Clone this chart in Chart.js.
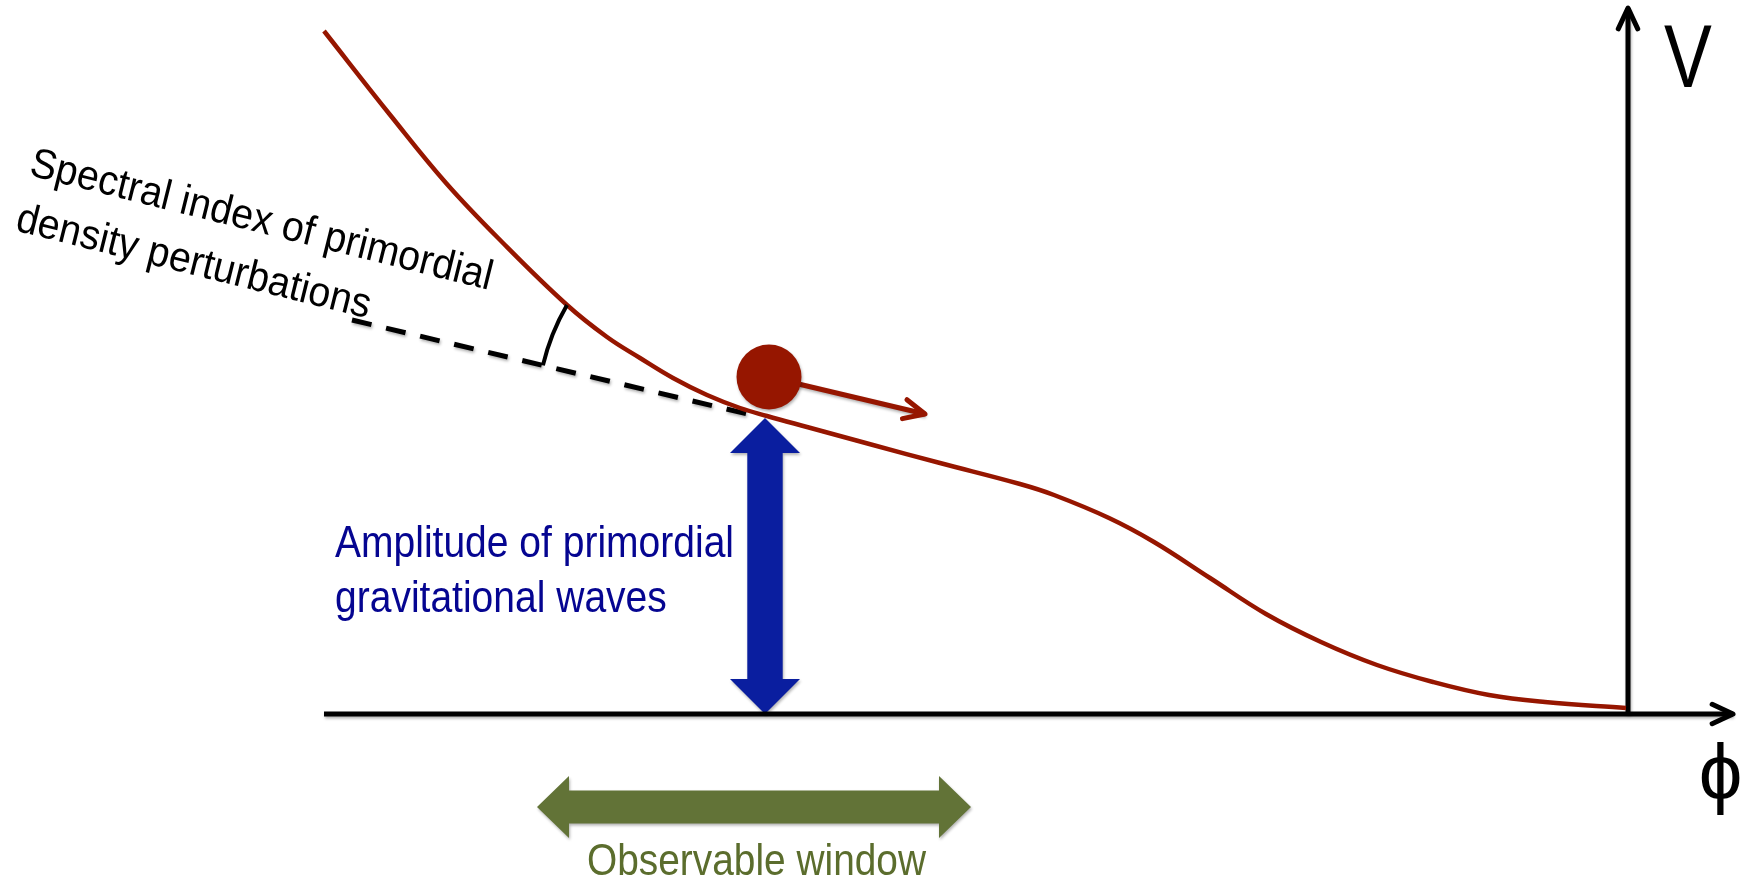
<!DOCTYPE html>
<html>
<head>
<meta charset="utf-8">
<script src="https://cdn.jsdelivr.net/npm/chart.js@4.4.0/dist/chart.umd.min.js"></script>
<style>
  html, body { margin: 0; padding: 0; background: #fff; overflow: hidden; }
</style>
</head>
<body>
<canvas id="c" width="1750" height="881"></canvas>
<script>
// potential V(phi) (arbitrary units, V = 0 on the phi axis)
const phi = [32.4, 39.1, 44.6, 50.2, 56.7, 60.7, 64.0, 67.3, 70.7, 74.0, 76.7, 80.7, 87.3, 94.0, 102.0,
  105.4, 110.9, 115.4, 121.0, 126.6, 132.1, 137.7, 143.3, 148.9, 154.5, 162.6];
const V = [68.3, 59.8, 53.1, 47.2, 40.9, 37.7, 35.6, 33.6, 31.9, 30.6, 29.8, 28.7, 26.9, 25.1, 23.0,
  21.9, 19.6, 17.2, 13.6, 10.0, 7.2, 4.9, 3.2, 1.9, 1.2, 0.6];

// tangent to the curve at the ball (dashed)
const tangentPhi = [35.2, 76.0];
const tangentV = [39.4, 29.7];
// point on the curve where the angle arc ends
const arcPhi = [56.7];
const arcV = [40.9];

// the rolling ball and its velocity arrow
const ballPhi = [76.9];
const ballV = [33.7];
const kickPhi = [76.9, 92.5];
const kickV = [33.7, 30.0];

// axes
const phiAxisPhi = [32.4, 173.3];
const phiAxisV = [0, 0];
const vAxisPhi = [162.8, 162.8];
const vAxisV = [0, 70.6];

// amplitude arrow (vertical) and observable window (horizontal)
const ampPhi = [76.5, 76.5];
const ampV = [29.6, 0];
const windowPhi = [53.7, 97.1];
const windowV = [-9.3, -9.3];

const RED = "#961600";
const BLUE = "#0a1e9f";
const GREEN = "#627337";
const FONT = "'Liberation Sans', Arial, sans-serif";

function pts(xs, ys) {
  return xs.map((x, i) => ({ x: x, y: ys[i] }));
}

// text blocks: anchor = left end of first baseline (data units)
const textBlocks = [
  { lines: ["Spectral index of primordial", "density perturbations"], at: [2.8, 53.9], rot: 14,
    size: 42, lh: 57, width: 475, color: "#000" },
  { lines: ["Amplitude of primordial", "gravitational waves"], at: [33.5, 15.7], rot: 0,
    size: 44, lh: 55, width: 399, color: "#050591" },
  { lines: ["Observable window"], at: [58.7, -16.1], rot: 0,
    size: 44, lh: 0, width: 339, color: "#5b6d2d" },
];
// axis symbols fitted into a box [phiLeft, Vtop, phiRight, Vbottom]
const symbols = [
  { text: "V", box: [166.4, 68.9, 171.2, 62.7] },
  { text: "\u03d5", box: [170.1, -2.8, 174.0, -10.1] },
];

function shadowOn(ctx) {
  ctx.shadowColor = "rgba(0,0,0,0.3)";
  ctx.shadowBlur = 3;
  ctx.shadowOffsetX = 1;
  ctx.shadowOffsetY = 2;
}

function chevron(ctx, tx, ty, fx, fy, color) {
  const a = Math.atan2(ty - fy, tx - fx);
  const len = 23, spread = 25 * Math.PI / 180;
  ctx.save();
  ctx.strokeStyle = color;
  ctx.lineWidth = 5;
  ctx.lineCap = "round";
  ctx.lineJoin = "round";
  ctx.beginPath();
  ctx.moveTo(tx - len * Math.cos(a - spread), ty - len * Math.sin(a - spread));
  ctx.lineTo(tx, ty);
  ctx.lineTo(tx - len * Math.cos(a + spread), ty - len * Math.sin(a + spread));
  ctx.stroke();
  ctx.restore();
}

// fat double-headed arrow between two tips (pixels)
function fatArrow(ctx, x1, y1, x2, y2, shaftHalf, headHalf, headLen, color) {
  const L = Math.hypot(x2 - x1, y2 - y1);
  const a = Math.atan2(y2 - y1, x2 - x1);
  ctx.save();
  ctx.translate(x1, y1);
  ctx.rotate(a);
  shadowOn(ctx);
  ctx.fillStyle = color;
  ctx.beginPath();
  ctx.moveTo(0, 0);
  ctx.lineTo(headLen, -headHalf);
  ctx.lineTo(headLen, -shaftHalf);
  ctx.lineTo(L - headLen, -shaftHalf);
  ctx.lineTo(L - headLen, -headHalf);
  ctx.lineTo(L, 0);
  ctx.lineTo(L - headLen, headHalf);
  ctx.lineTo(L - headLen, shaftHalf);
  ctx.lineTo(headLen, shaftHalf);
  ctx.lineTo(headLen, headHalf);
  ctx.closePath();
  ctx.fill();
  ctx.restore();
}

const sketchPlugin = {
  id: "sketch",
  beforeDatasetsDraw(chart) {
    const ctx = chart.ctx;
    const xs = chart.scales.x, ys = chart.scales.y;
    const px = (v) => xs.getPixelForValue(v), py = (v) => ys.getPixelForValue(v);
    fatArrow(ctx, px(windowPhi[0]), py(windowV[0]), px(windowPhi[1]), py(windowV[1]), 16.5, 31, 32, GREEN);
    fatArrow(ctx, px(ampPhi[0]), py(ampV[0]), px(ampPhi[1]), py(ampV[1]), 17.7, 35, 35, BLUE);
  },
  beforeDatasetDraw(chart, args) {
    const ds = chart.data.datasets[args.index];
    chart.ctx.save();
    if (ds.shadow) shadowOn(chart.ctx);
  },
  afterDatasetDraw(chart) {
    chart.ctx.restore();
  },
  afterDatasetsDraw(chart) {
    const ctx = chart.ctx;
    const xs = chart.scales.x, ys = chart.scales.y;
    const px = (v) => xs.getPixelForValue(v), py = (v) => ys.getPixelForValue(v);

    // arrow heads: axes and the ball's velocity
    chevron(ctx, px(phiAxisPhi[1]), py(phiAxisV[1]), px(phiAxisPhi[0]), py(phiAxisV[0]), "#000");
    chevron(ctx, px(vAxisPhi[1]), py(vAxisV[1]), px(vAxisPhi[0]), py(vAxisV[0]), "#000");
    chevron(ctx, px(kickPhi[1]), py(kickV[1]), px(kickPhi[0]), py(kickV[0]), RED);

    // angle arc between tangent and curve, centred at the tangent point
    const cx = px(tangentPhi[1]), cy = py(tangentV[1]);
    const ex = px(arcPhi[0]), ey = py(arcV[0]);
    const r = Math.hypot(ex - cx, ey - cy);
    const aCurve = Math.atan2(ey - cy, ex - cx);
    const aTan = Math.atan2(py(tangentV[0]) - cy, px(tangentPhi[0]) - cx);
    ctx.save();
    ctx.strokeStyle = "#000";
    ctx.lineWidth = 4;
    ctx.beginPath();
    ctx.arc(cx, cy, r, aCurve, aTan, true);
    ctx.stroke();
    ctx.restore();

    // text blocks
    textBlocks.forEach((b) => {
      ctx.save();
      ctx.font = b.size + "px " + FONT;
      ctx.fillStyle = b.color;
      ctx.textBaseline = "alphabetic";
      ctx.textAlign = "left";
      const sx = b.width / ctx.measureText(b.lines[0]).width;
      ctx.translate(px(b.at[0]), py(b.at[1]));
      ctx.rotate(b.rot * Math.PI / 180);
      ctx.scale(sx, 1);
      b.lines.forEach((line, i) => ctx.fillText(line, 0, i * b.lh));
      ctx.restore();
    });

    // V and phi, fitted to their boxes
    symbols.forEach((s) => {
      ctx.save();
      ctx.font = "100px " + FONT;
      ctx.fillStyle = "#000";
      ctx.textBaseline = "alphabetic";
      ctx.textAlign = "left";
      const m = ctx.measureText(s.text);
      const w = m.actualBoundingBoxLeft + m.actualBoundingBoxRight;
      const h = m.actualBoundingBoxAscent + m.actualBoundingBoxDescent;
      const x0 = px(s.box[0]), y0 = py(s.box[1]);
      const bw = px(s.box[2]) - x0, bh = py(s.box[3]) - y0;
      ctx.translate(x0, y0);
      ctx.scale(bw / w, bh / h);
      ctx.fillText(s.text, m.actualBoundingBoxLeft, m.actualBoundingBoxAscent);
      ctx.restore();
    });
  },
};

const lineBase = { showLine: true, pointRadius: 0, fill: false, clip: false };

new Chart(document.getElementById("c"), {
  type: "scatter",
  data: {
    datasets: [
      { ...lineBase, label: "ball", data: pts(ballPhi, ballV), showLine: false,
        pointRadius: 32.5, pointBackgroundColor: RED, pointBorderWidth: 0, shadow: true },
      { ...lineBase, label: "kick", data: pts(kickPhi, kickV), borderColor: RED, borderWidth: 5, shadow: true },
      { ...lineBase, label: "V(phi)", data: pts(phi, V), borderColor: RED, borderWidth: 4.5, tension: 0.4 },
      { ...lineBase, label: "tangent", data: pts(tangentPhi, tangentV), borderColor: "#000",
        borderWidth: 5, borderDash: [20, 15], shadow: true },
      { ...lineBase, label: "phi axis", data: pts(phiAxisPhi, phiAxisV), borderColor: "#000",
        borderWidth: 5, shadow: true },
      { ...lineBase, label: "V axis", data: pts(vAxisPhi, vAxisV), borderColor: "#000",
        borderWidth: 5, shadow: true },
    ],
  },
  options: {
    responsive: false,
    animation: false,
    events: [],
    devicePixelRatio: 1,
    layout: { padding: 0, autoPadding: false },
    plugins: { legend: { display: false }, tooltip: { enabled: false }, title: { display: false } },
    scales: {
      x: { type: "linear", min: 0, max: 175, display: false },
      y: { type: "linear", min: -16.7, max: 71.4, display: false },
    },
  },
  plugins: [sketchPlugin],
});
</script>
</body>
</html>
